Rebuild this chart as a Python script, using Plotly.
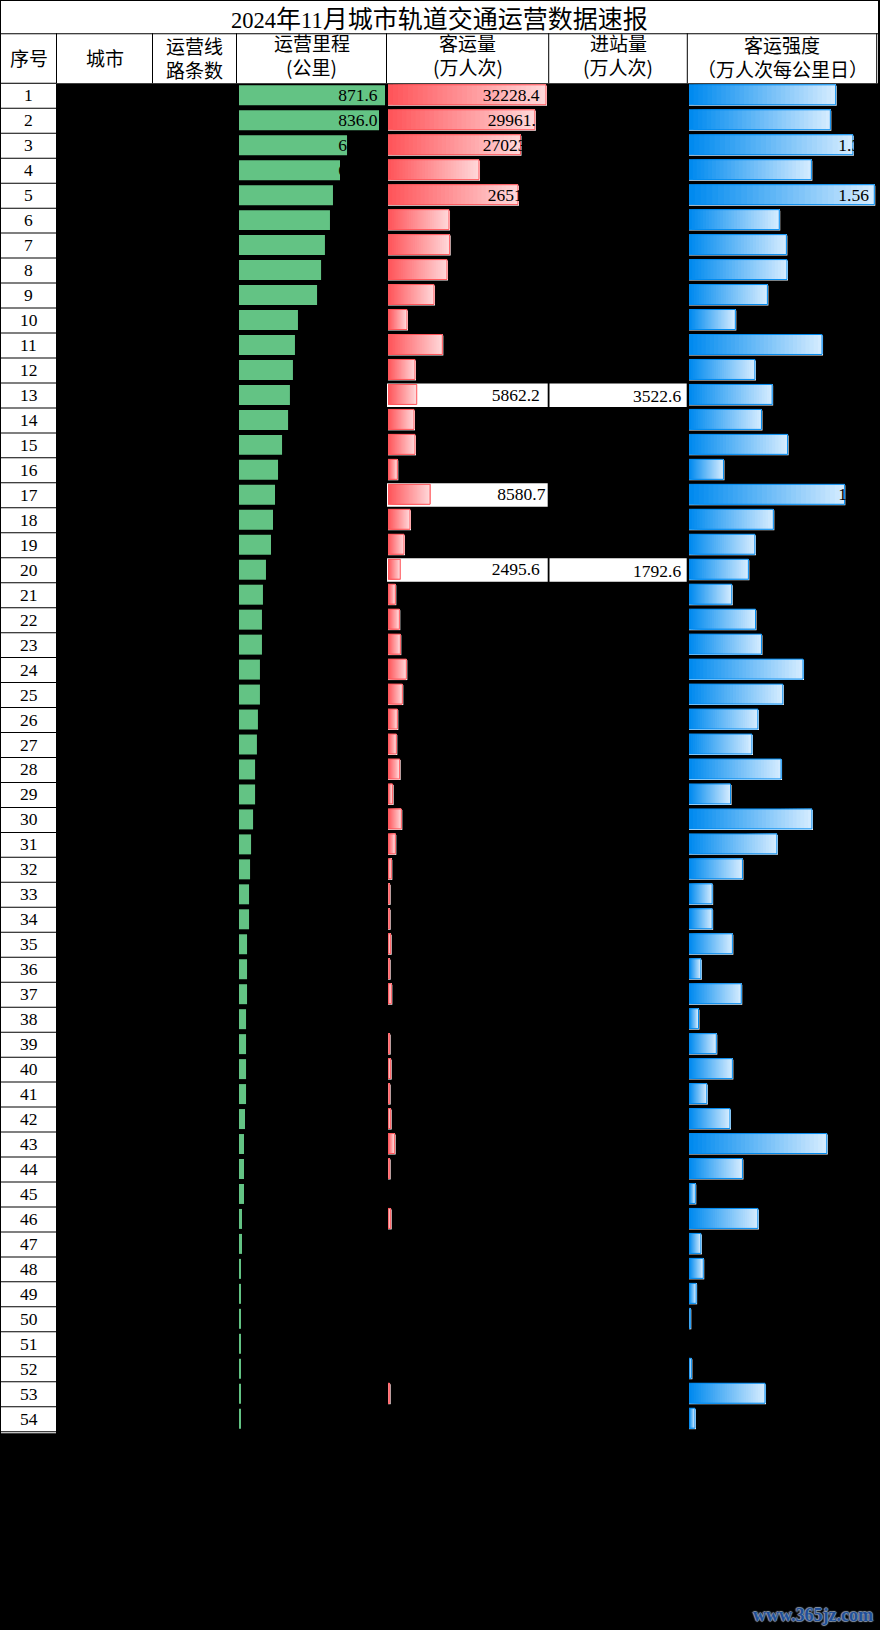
"""Rail transit monthly report table, redrawn with Plotly data bars"""

import plotly.graph_objects as go

# Table content
TITLE_YEAR = "2024"
TITLE_REST = "年"
TITLE_MONTH = "11"
TITLE_END = "月城市轨道交通运营数据速报"
HEADERS = [
    ["序号"],
    ["城市"],
    ["运营线", "路条数"],
    ["运营里程", "(公里)"],
    ["客运量", "(万人次)"],
    ["进站量", "(万人次)"],
    ["客运强度", "（万人次每公里日）"],
]
ROWS = list(range(1, 55))

mileage = [
    871.6, 836.0, 645, 603, 561, 543, 513, 490, 466, 352, 334, 322, 304, 293, 257, 233, 215, 203,
    191, 161, 143, 137, 137, 125, 125, 113, 107, 96, 96, 84, 72, 66, 60, 60, 48, 48, 48, 42, 42,
    42, 42, 36, 30, 30, 30, 18, 18, 12, 12, 12, 12, 12, 6, 6,
]
passengers = [
    32228.4, 29961, 27023, 18564, 26511, 12444, 12580, 12036, 9384, 3876, 11084, 5508, 5862.2,
    5304, 5508, 1904, 8580.7, 4488, 3264, 2495.6, 1496, 2312, 2516, 3740, 2924, 1904, 1700, 2380,
    952, 2720, 1496, 680, 340, 340, 544, 340, 680, None, 340, 544, 340, 544, 1360, 340, None, 544,
    None, None, None, None, None, None, 340, None,
]
intensity = [
    1.235, 1.19, 1.38, 1.03, 1.56, 0.76, 0.82, 0.825, 0.66, 0.39, 1.12, 0.555, 0.70, 0.61, 0.83,
    0.29, 1.31, 0.71, 0.555, 0.50, 0.36, 0.56, 0.61, 0.96, 0.79, 0.58, 0.53, 0.775, 0.35, 1.035,
    0.74, 0.45, 0.195, 0.195, 0.365, 0.10, 0.44, 0.08, 0.23, 0.365, 0.15, 0.345, 1.16, 0.45,
    0.053, 0.58, 0.10, 0.12, 0.06, 0.011, None, 0.02, 0.64, 0.05,
]

mileage_labels = {1: "871.6", 2: "836.0", 3: "6", 4: "6"}
passenger_labels = {
    1: "32228.4", 2: "29961.", 3: "27023", 5: "26511", 13: "5862.2", 17: "8580.7", 20: "2495.6",
}
entry_labels = {13: "3522.6", 20: "1792.6"}
intensity_labels = {3: "1.3", 5: "1.56", 17: "1"}

# Layout in screen pixels
WIDTH = 880
HEIGHT = 1630
COLUMN_EDGES = [0.5, 56.5, 152.5, 236.5, 386.5, 548.7, 687.3, 876.7]
HEADER_LEVELS = [[57], [57], [46, 69.8], [42.8, 66.7], [42.8, 66.7], [42.8, 66.7], [44.9, 68.8]]
TITLE_BOTTOM = 33.3
ROW_TOP = 83.3
ROW_PITCH = 24.97
BAR_WIDTH = 0.8
BAR_OFFSET = -0.44
SHADOW_PX = 1.0
GRADIENT_STEPS = 32

MILEAGE_START, MILEAGE_SCALE, MILEAGE_END = 239.0, 146.0 / 871.6, 386.0
PASSENGER_START, PASSENGER_SCALE, PASSENGER_END = 388.0, 158.0 / 32228.4, 548.0
INTENSITY_START, INTENSITY_SCALE, INTENSITY_END = 689.0, 185.3 / 1.56, 877.0

MILEAGE_LABEL_LEFT = 338.2
PASSENGER_LABEL_LEFT = {1: 482.7, 2: 487.7, 3: 482.7, 5: 487.7, 13: 491.7, 17: 497.3, 20: 491.7}
ENTRY_LABEL_LEFT = 630.7
INTENSITY_LABEL_LEFT = 838.3

SERIF = "Liberation Serif, Noto Sans CJK SC, serif"
CJK = "Noto Sans CJK SC, Liberation Serif, sans-serif"
VALUE_SIZE = 17.5
HALO = "#8A9AAE"


def row_of(pixel):
    return (pixel - ROW_TOP) / ROW_PITCH + 0.5


def lerp_color(start, end, t):
    parts = [round(a + (b - a) * t) for a, b in zip(start, end)]
    return f"rgb({parts[0]},{parts[1]},{parts[2]})"


def rect(x0, x1, y0, y1, color="white", layer="below", xref="paper", yref="paper"):
    return dict(type="rect", xref=xref, yref=yref, x0=x0, x1=x1, y0=y0, y1=y1,
                fillcolor=color, line_width=0, layer=layer)


def px_x(pixel):
    return pixel / WIDTH


def px_y(pixel):
    return 1 - pixel / HEIGHT


def gradient_bars(fig, values, axis, scale, start_color, end_color, line_color):
    """Shadow, then the gradient painted over itself, then the outline"""
    shadow = [None if v is None else v + SHADOW_PX / scale for v in values]
    fig.add_trace(go.Bar(
        y=ROWS, x=shadow, orientation="h", xaxis=axis, width=BAR_WIDTH,
        offset=BAR_OFFSET + 0.04, marker=dict(color="white", line_width=0),
        hoverinfo="skip",
    ))
    for i in range(GRADIENT_STEPS):
        # every slice runs on to the bar end, so no gaps show between slices
        base = [None if v is None else v * i / GRADIENT_STEPS for v in values]
        rest = [None if v is None else v * (GRADIENT_STEPS - i) / GRADIENT_STEPS for v in values]
        fig.add_trace(go.Bar(
            y=ROWS, x=rest, base=base, orientation="h", xaxis=axis, width=BAR_WIDTH,
            offset=BAR_OFFSET,
            marker=dict(color=lerp_color(start_color, end_color, i / (GRADIENT_STEPS - 1)),
                        line_width=0),
            hoverinfo="skip",
        ))
    fig.add_trace(go.Bar(
        y=ROWS, x=values, orientation="h", xaxis=axis, width=BAR_WIDTH, offset=BAR_OFFSET,
        marker=dict(color="rgba(0,0,0,0)", line=dict(color=line_color, width=1)),
        hoverinfo="skip",
    ))


def value_text(fig, labels, left_px, start, scale, axis):
    rows = list(labels)
    fig.add_trace(go.Scatter(
        y=[r + 0.03 for r in rows],
        x=[(left_px[r] - start) / scale if isinstance(left_px, dict) else (left_px - start) / scale
           for r in rows],
        text=[labels[r] for r in rows],
        mode="text", textposition="middle right", xaxis=axis, cliponaxis=False,
        textfont=dict(family=SERIF, size=VALUE_SIZE, color="black"),
        hoverinfo="skip",
    ))


fig = go.Figure()

# Mileage bars are flat green
fig.add_trace(go.Bar(
    y=ROWS, x=mileage, orientation="h", xaxis="x", width=BAR_WIDTH, offset=BAR_OFFSET + 0.02,
    marker=dict(color="#63C384", line_width=0), hoverinfo="skip",
))
gradient_bars(fig, passengers, "x2", PASSENGER_SCALE, (255, 85, 90), (255, 214, 216), "#FF555A")
gradient_bars(fig, intensity, "x3", INTENSITY_SCALE, (0, 138, 239), (211, 235, 255), "#008AEF")

value_text(fig, mileage_labels, MILEAGE_LABEL_LEFT, MILEAGE_START, MILEAGE_SCALE, "x")
value_text(fig, passenger_labels, PASSENGER_LABEL_LEFT, PASSENGER_START, PASSENGER_SCALE, "x2")
value_text(fig, intensity_labels, INTENSITY_LABEL_LEFT, INTENSITY_START, INTENSITY_SCALE, "x3")

# White cells and grid lines
shapes = [
    rect(px_x(1), px_x(878), px_y(1), px_y(TITLE_BOTTOM)),
    rect(px_x(1), px_x(878), px_y(TITLE_BOTTOM + 1), px_y(ROW_TOP)),
    rect(px_x(1), px_x(COLUMN_EDGES[1] - 0.5), px_y(ROW_TOP), px_y(ROW_TOP + ROW_PITCH * 54 + 1.5)),
]
for r in (13, 17, 20):
    shapes.append(rect(px_x(387), px_x(547.7), r - 0.48, r + 0.46, yref="y"))
for r in entry_labels:
    shapes.append(rect(px_x(549.5), px_x(686.7), r - 0.48, r + 0.46, yref="y"))
for edge in COLUMN_EDGES[1:]:
    shapes.append(rect(px_x(edge - 0.5), px_x(edge + 0.5), px_y(TITLE_BOTTOM), px_y(ROW_TOP),
                       color="black"))
for r in [0] + ROWS:
    shapes.append(rect(px_x(1), px_x(COLUMN_EDGES[1] - 0.5), r + 0.48, r + 0.52, color="black",
                       yref="y"))

# The numbers are cut off where the bar ends
for r in (2, 4):
    shapes.append(rect(mileage[r - 1], (MILEAGE_END - MILEAGE_START) / MILEAGE_SCALE,
                       r - 0.44, r + 0.44, color="black", layer="above", xref="x", yref="y"))
for r in (2, 3, 5):
    shapes.append(rect(passengers[r - 1] + 1.6 / PASSENGER_SCALE,
                       (PASSENGER_END - PASSENGER_START) / PASSENGER_SCALE,
                       r - 0.46, r + 0.46, color="black", layer="above", xref="x2", yref="y"))
for r in (3, 17):
    shapes.append(rect(intensity[r - 1] + 1.0 / INTENSITY_SCALE,
                       (INTENSITY_END - INTENSITY_START) / INTENSITY_SCALE,
                       r - 0.46, r + 0.46, color="black", layer="above", xref="x3", yref="y"))

# Title, headers and row numbers
annotations = [dict(
    xref="paper", yref="paper", x=px_x(228.5), y=px_y(17), xanchor="left", yanchor="middle",
    showarrow=False,
    text=(f'<span style="font-family:Liberation Serif;font-size:22.5px">{TITLE_YEAR}</span>'
          f'{TITLE_REST}'
          f'<span style="font-family:Liberation Serif;font-size:22.5px">{TITLE_MONTH}</span>'
          f'{TITLE_END}'),
    font=dict(family=CJK, size=25, color="black"),
)]
for i, lines in enumerate(HEADERS):
    center = (COLUMN_EDGES[i] + COLUMN_EDGES[i + 1]) / 2
    for line, level in zip(lines, HEADER_LEVELS[i]):
        annotations.append(dict(
            xref="paper", yref="paper", x=px_x(center), y=px_y(level), xanchor="center",
            yanchor="middle", showarrow=False, text=line,
            font=dict(family=CJK, size=19, color="black"),
        ))
for r in ROWS:
    annotations.append(dict(
        xref="paper", yref="y", x=px_x(28.5), y=r - 0.02, xanchor="center", yanchor="middle",
        showarrow=False, text=str(r), font=dict(family=SERIF, size=VALUE_SIZE, color="black"),
    ))
for r, label in entry_labels.items():
    annotations.append(dict(
        xref="paper", yref="y", x=px_x(ENTRY_LABEL_LEFT), y=r + 0.03, xanchor="left",
        yanchor="middle", showarrow=False, text=label,
        font=dict(family=SERIF, size=VALUE_SIZE, color="black"),
    ))
annotations.append(dict(
    xref="paper", yref="paper", x=px_x(875), y=px_y(1615), xanchor="right", yanchor="middle",
    showarrow=False, text="<b>www.365jz.com</b>",
    font=dict(family=SERIF, size=18, color="#1F4F99",
              shadow=f"-1px 0 1px {HALO}, 1px 0 1px {HALO}, 0 -1px 1px {HALO}, 0 1px 1px {HALO}"),
))


def hidden_axis(start, end, scale):
    return dict(domain=[px_x(start), px_x(end)], range=[0, (end - start) / scale], visible=False,
                anchor="y", fixedrange=True)


fig.update_layout(
    width=WIDTH, height=HEIGHT,
    margin=dict(l=0, r=0, t=0, b=0, pad=0),
    paper_bgcolor="black", plot_bgcolor="rgba(0,0,0,0)",
    barmode="overlay", showlegend=False,
    xaxis=hidden_axis(MILEAGE_START, MILEAGE_END, MILEAGE_SCALE),
    xaxis2=hidden_axis(PASSENGER_START, PASSENGER_END, PASSENGER_SCALE),
    xaxis3=hidden_axis(INTENSITY_START, INTENSITY_END, INTENSITY_SCALE),
    yaxis=dict(domain=[0, 1], range=[row_of(HEIGHT), row_of(0)], visible=False, fixedrange=True),
    shapes=shapes, annotations=annotations,
)

fig.write_html(
    "out.html",
    config={"displayModeBar": False},
    post_script="document.body.style.margin='0';document.body.style.overflow='hidden';",
)
